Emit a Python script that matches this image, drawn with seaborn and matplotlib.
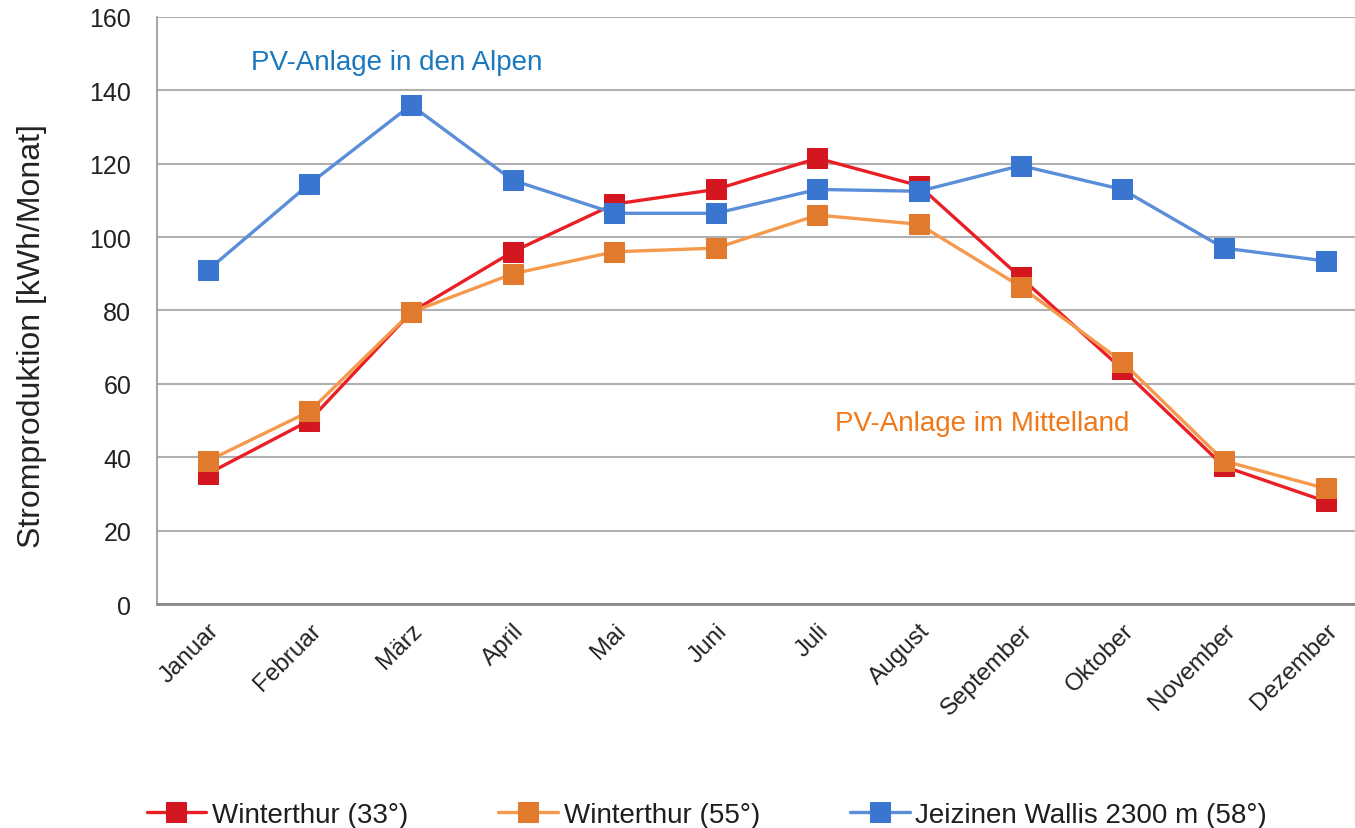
import pandas as pd
import seaborn as sns
import matplotlib.pyplot as plt
import matplotlib.transforms as mtransforms

# Monate und Stromproduktion [kWh/Monat]
monate = ["Januar", "Februar", "März", "April", "Mai", "Juni", "Juli",
          "August", "September", "Oktober", "November", "Dezember"]
winterthur_33 = [35.5, 50, 79.5, 96, 109, 113, 121.5, 114, 89, 64, 37.5, 28]
winterthur_55 = [39, 52.5, 79.5, 90, 96, 97, 106, 103.5, 86.5, 66, 39, 31.5]
jeizinen = [91, 114.5, 136, 115.5, 106.5, 106.5, 113, 112.5, 119.5, 113, 97, 93.5]

serien = ["Winterthur (33°)", "Winterthur (55°)", "Jeizinen Wallis 2300 m (58°)"]
linien_farben = ["#ea1f26", "#f59a4c", "#5a8ed8"]
marker_farben = ["#d3161f", "#e27a2e", "#3a75cf"]

sns.set_theme(style="white")
plt.rcParams["font.family"] = ["Liberation Sans", "DejaVu Sans"]

fig = plt.figure(figsize=(13.55, 8.29), dpi=100)
ax = fig.add_axes([0.1159, 0.2702, 0.8841, 0.7081])

for name, werte, lf, mf in zip(serien, [winterthur_33, winterthur_55, jeizinen],
                               linien_farben, marker_farben):
    df = pd.DataFrame({"Monat": monate, "Wert": werte})
    sns.lineplot(data=df, x="Monat", y="Wert", ax=ax, sort=False, color=lf,
                 linewidth=2.4, marker="s", markersize=14,
                 markerfacecolor=mf, markeredgecolor=mf, label=name)

ax.set_ylim(0, 160)
ax.set_yticks(range(0, 161, 20))
ax.set_xticks([i - 0.5 for i in range(13)], minor=False)
ax.set_xticklabels([])
ax.set_xticks(range(12), minor=True)
ax.set_xticklabels(monate, minor=True, rotation=45, ha="right",
                   rotation_mode="anchor", fontsize=17.5, color="#222222")
ax.set_xlim(-0.5, 11.29)

# Monatsnamen etwas nach rechts schieben wie im Original
versatz = mtransforms.ScaledTranslation(19 / 100, 0, fig.dpi_scale_trans)
for lbl in ax.get_xticklabels(minor=True):
    lbl.set_transform(lbl.get_transform() + versatz)

ax.tick_params(axis="x", which="minor", length=0, pad=11)
ax.tick_params(axis="x", which="major", length=5, color="#888888", direction="out")
ax.tick_params(axis="y", length=6.5, color="#888888", direction="out",
               labelsize=18, labelcolor="#222222", pad=12)

ax.grid(axis="y", color="#b0b0b0", linewidth=1.5)
ax.set_axisbelow(True)
for side in ["top", "right"]:
    ax.spines[side].set_visible(False)
ax.spines["left"].set_color("#999999")
ax.spines["bottom"].set_color("#888888")
ax.spines["bottom"].set_linewidth(2)

ax.set_xlabel("")
ax.set_ylabel("Stromproduktion [kWh/Monat]", fontsize=23, color="#222222")
ax.yaxis.set_label_coords(-0.092, 0.458)

ax.text(0.42, 147.7, "PV-Anlage in den Alpen", fontsize=20, color="#1a78be", va="center")
ax.text(6.17, 49.3, "PV-Anlage im Mittelland", fontsize=20, color="#f07818", va="center")

handles, labels = ax.get_legend_handles_labels()
ax.get_legend().remove()
fig.legend(handles, labels, loc="lower left", bbox_to_anchor=(0.0897, -0.03),
           ncol=3, frameon=False, fontsize=20, handlelength=2.15,
           handletextpad=0.2, columnspacing=3.25, labelcolor="#1e1e1e")

fig.savefig("out.png", dpi=100)
